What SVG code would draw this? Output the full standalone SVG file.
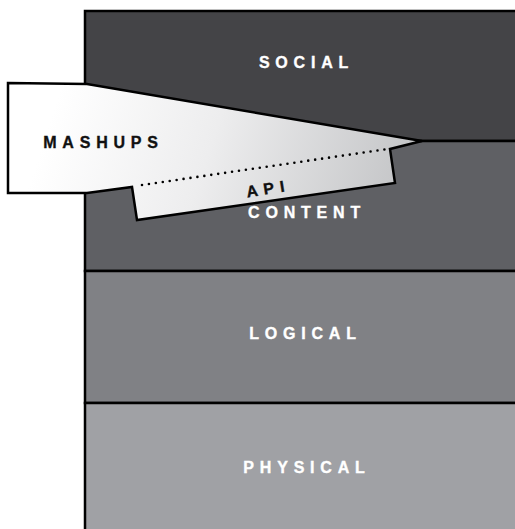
<svg xmlns="http://www.w3.org/2000/svg" width="515" height="529" viewBox="0 0 515 529">
<defs>
<linearGradient id="g" x1="60" y1="90" x2="400" y2="200" gradientUnits="userSpaceOnUse">
<stop offset="0" stop-color="#ffffff"/>
<stop offset="0.45" stop-color="#ededee"/>
<stop offset="1" stop-color="#c4c5c7"/>
</linearGradient>
<style>
.lay{stroke:#000;stroke-width:2.5}
.t{font-family:"Liberation Sans",Arial,sans-serif;font-weight:bold;font-size:16px;letter-spacing:5.8px;text-anchor:middle;fill:#fff;stroke:#fff;stroke-width:0.35}
.d{fill:#111;stroke:#111}
</style>
</defs>
<g id="social"><rect class="lay" x="85" y="11" width="440" height="130" fill="#444447"/><text class="t" x="306.5" y="68">SOCIAL</text></g>
<g id="content"><rect class="lay" x="85" y="141" width="440" height="130" fill="#5f6064"/></g>
<g id="logical"><rect class="lay" x="85" y="271" width="440" height="132" fill="#808185"/><text class="t" x="305.5" y="339">LOGICAL</text></g>
<g id="physical"><rect class="lay" x="85" y="403" width="440" height="140" fill="#a0a1a5"/><text class="t" x="307" y="473">PHYSICAL</text></g>
<g id="mashups">
<polygon points="8,83 87,84 422,141 390,149 395,183 137,220 132,187 87,193 8,193" fill="url(#g)" stroke="#000" stroke-width="2.5" stroke-linejoin="miter"/>
<text class="t d" x="103.5" y="148">MASHUPS</text>
</g>
<g id="connectors">
<line x1="142" y1="185" x2="388" y2="149" stroke="#000" stroke-width="2.6" stroke-dasharray="0 7" stroke-linecap="round"/>
</g>
<g id="api"><text class="t d" x="269" y="194" transform="rotate(-9 269 194)">API</text></g>
<g id="content-label"><text class="t" x="307" y="218">CONTENT</text></g>
</svg>
